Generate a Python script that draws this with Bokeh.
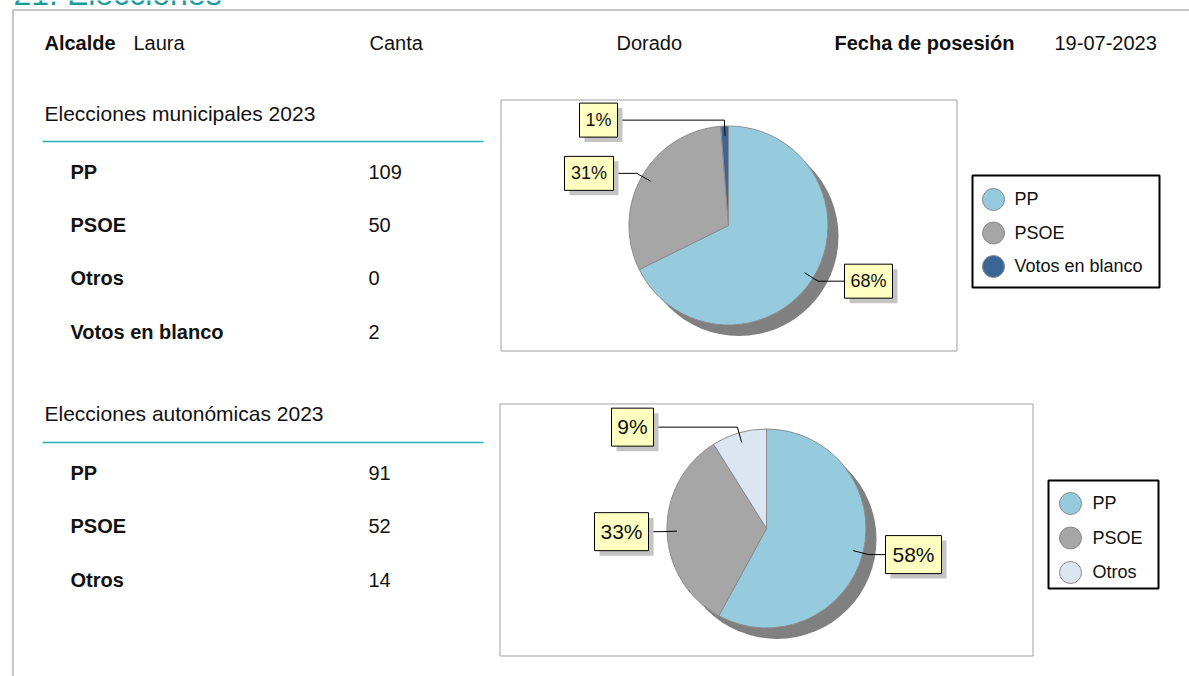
import math
from bokeh.plotting import figure
from bokeh.models import Range1d
from bokeh.core.properties import value
from bokeh.embed import file_html
from bokeh.resources import INLINE

# ---------------- data ----------------
section_title = "21. Elecciones"
header_labels = ["Alcalde", "Fecha de posesión"]
alcalde_parts = ["Laura", "Canta", "Dorado"]
fecha_posesion = "19-07-2023"

muni_title = "Elecciones municipales 2023"
muni_parties = ["PP", "PSOE", "Otros", "Votos en blanco"]
muni_votes = [109, 50, 0, 2]

auto_title = "Elecciones autonómicas 2023"
auto_parties = ["PP", "PSOE", "Otros"]
auto_votes = [91, 52, 14]

# ---------------- styles / layout ----------------
W, H = 1189, 676
FONT = value("Liberation Sans")
party_colors = {"PP": "#95cbdd", "PSOE": "#a6a6a6", "Otros": "#dbe6f1",
                "Votos en blanco": "#3b6596"}
TEAL = "#2bb0b0"
TITLE_TEAL = "#1a9c9c"
BASE_FIX = 0.375  # renderer places alphabetic baseline this much (x font size) lower


def Y(y):
    return H - y


p = figure(width=W, height=H, x_range=Range1d(0, W), y_range=Range1d(0, H),
           output_backend="svg", toolbar_location=None, min_border=0,
           background_fill_color="white", border_fill_color="white")
p.axis.visible = False
p.grid.visible = False
p.outline_line_color = None


def txt(x, y, s, size, bold=False, color="#111111", align="left"):
    p.text(x=[x], y=[Y(y - BASE_FIX * size)], text=[s], text_font=FONT,
           text_font_size=f"{size}px",
           text_font_style="bold" if bold else "normal", text_color=color,
           text_align=align, text_baseline="alphabetic")


# page frame and section title
txt(13, 5, section_title, 32, color=TITLE_TEAL)
p.segment(x0=[12], y0=[Y(9.5)], x1=[W], y1=[Y(9.5)], line_color="#b4b4b4", line_width=1.5)
p.segment(x0=[12.5], y0=[Y(9.5)], x1=[12.5], y1=[0], line_color="#b4b4b4", line_width=1.5)

# header row
txt(44, 49.5, header_labels[0], 20, bold=True)
for s, x in zip(alcalde_parts, [133, 369, 616]):
    txt(x, 49.5, s, 20)
txt(834, 49.5, header_labels[1], 20, bold=True)
txt(1054, 49.5, fecha_posesion, 20)


def table(title, parties, votes, title_base, line_y, row_base):
    txt(44, title_base, title, 21)
    p.segment(x0=[42], y0=[Y(line_y)], x1=[483], y1=[Y(line_y)], line_color=TEAL, line_width=1.5)
    for i, (pa, v) in enumerate(zip(parties, votes)):
        yb = row_base + i * 53.3
        txt(70, yb, pa, 20, bold=True)
        txt(368, yb, str(v), 20)


table(muni_title, muni_parties, muni_votes, 120.7, 141, 178.7)
table(auto_title, auto_parties, auto_votes, 420.7, 442, 480)


def pie(parties, votes, box, center, r, label_layout, label_font, label_h, legend):
    bx0, by0, bx1, by1 = box
    p.quad(left=[bx0 + 0.5], right=[bx1 + 0.5], top=[Y(by0 + 0.5)], bottom=[Y(by1 + 0.5)],
           fill_color="white", line_color="#a0a0a0", line_width=1)
    cx, cy = center
    items = [(pa, v) for pa, v in zip(parties, votes) if v > 0]
    total = float(sum(v for _, v in items))
    # shadow
    p.circle(x=[cx + 10.5], y=[Y(cy + 11)], radius=r, fill_color="#808080", line_color=None)
    starts, ends, cols, mids = [], [], [], []
    cum = 0.0
    for pa, v in items:
        f0 = cum / total
        cum += v
        f1 = cum / total
        starts.append(math.pi / 2 - 2 * math.pi * f0)
        ends.append(math.pi / 2 - 2 * math.pi * f1)
        cols.append(party_colors[pa])
        mids.append((f0 + f1) / 2)
    p.wedge(x=[cx] * len(items), y=[Y(cy)] * len(items), radius=r,
            start_angle=starts, end_angle=ends, direction="clock",
            fill_color=cols, line_color="#8c8c8c", line_width=1)
    # labels
    for (pa, v), m, (side, near_x, w) in zip(items, mids, label_layout):
        dx, dy = math.sin(2 * math.pi * m), -math.cos(2 * math.pi * m)
        sx, sy = cx + 0.9 * r * dx, cy + 0.9 * r * dy
        ex, ey = cx + 1.06 * r * dx, cy + 1.06 * r * dy
        p.line(x=[sx, ex, near_x], y=[Y(sy), Y(ey), Y(ey)], line_color="black", line_width=1)
        if side == "right":
            l, rr = near_x, near_x + w
        else:
            l, rr = near_x - w, near_x
        t, b = ey - label_h / 2, ey + label_h / 2
        p.quad(left=[l + 5], right=[rr + 5], top=[Y(t + 5)], bottom=[Y(b + 5)],
               fill_color="#c4c4c4", line_color=None)
        p.quad(left=[l], right=[rr], top=[Y(t)], bottom=[Y(b)],
               fill_color="#ffffc2", line_color="black", line_width=1)
        pct = f"{round(v / total * 100)}%"
        txt((l + rr) / 2, ey + 0.36 * label_font, pct, label_font, align="center")
    # legend
    lx0, ly0, lx1, ly1, ccx, cy0, step, tx = legend
    p.quad(left=[lx0], right=[lx1], top=[Y(ly0)], bottom=[Y(ly1)],
           fill_color="white", line_color="black", line_width=2)
    for i, (pa, v) in enumerate(items):
        yy = cy0 + i * step
        p.scatter(x=[ccx], y=[Y(yy)], size=22, marker="circle",
                  fill_color=party_colors[pa], line_color="#8a8a8a", line_width=1)
        txt(tx, yy + 6.5, pa, 18)


pie(muni_parties, muni_votes, (500, 99, 956, 350), (728, 225), 99.5,
    [("right", 844, 48), ("left", 613, 49), ("left", 617, 38)], 18, 34,
    (972, 175, 1159, 287, 993, 199, 33.5, 1014))
pie(auto_parties, auto_votes, (499, 403, 1032, 655), (766, 528), 99.5,
    [("right", 885, 56), ("left", 648, 54), ("left", 653, 42)], 21, 38,
    (1048, 480, 1158, 588, 1070, 503, 34.5, 1092))

open("out.html", "w").write(file_html(p, INLINE))
